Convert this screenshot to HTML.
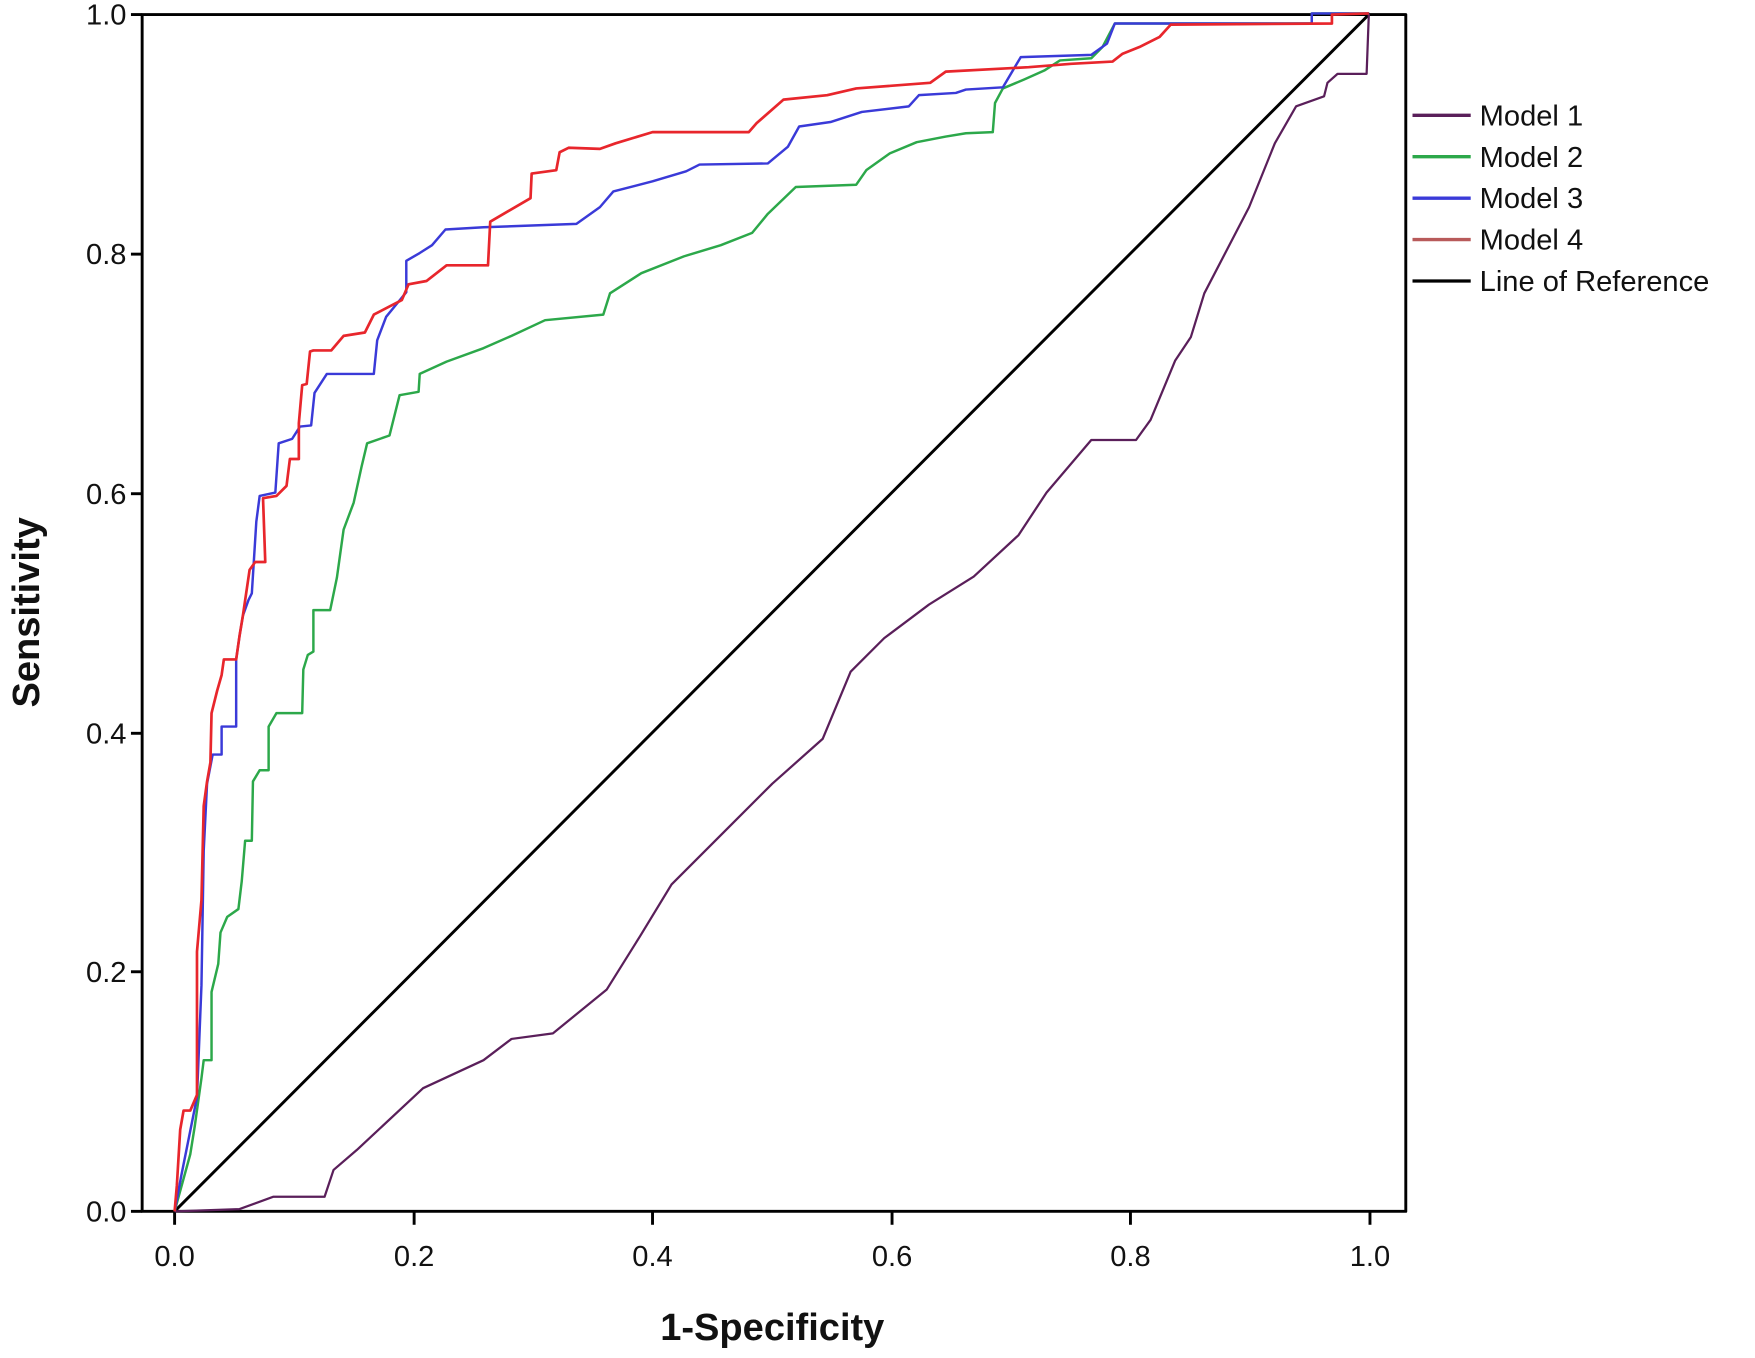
<!DOCTYPE html>
<html><head><meta charset="utf-8"><style>html,body{margin:0;padding:0;background:#fff}svg{display:block}</style></head>
<body>
<svg width="1755" height="1358" viewBox="0 0 1568 1213" preserveAspectRatio="none" xmlns="http://www.w3.org/2000/svg" font-family="Liberation Sans, Arial, sans-serif">
<rect width="1568" height="1213" fill="#fff"/>
<g fill="none" stroke-linejoin="round">
<rect x="127" y="13" width="1129" height="1069" stroke="#000" stroke-width="2.6"/>
<g stroke="#000" stroke-width="2.6">
<line x1="117" y1="1082" x2="127" y2="1082"/><line x1="117" y1="868" x2="127" y2="868"/><line x1="117" y1="655" x2="127" y2="655"/><line x1="117" y1="441" x2="127" y2="441"/><line x1="117" y1="227" x2="127" y2="227"/><line x1="117" y1="13" x2="127" y2="13"/>
<line x1="156" y1="1082" x2="156" y2="1094"/><line x1="370" y1="1082" x2="370" y2="1094"/><line x1="583" y1="1082" x2="583" y2="1094"/><line x1="797" y1="1082" x2="797" y2="1094"/><line x1="1010" y1="1082" x2="1010" y2="1094"/><line x1="1224" y1="1082" x2="1224" y2="1094"/>
</g>
<line x1="156" y1="1082" x2="1224" y2="12" stroke="#000" stroke-width="2.6"/>
<polyline stroke="#5a1f5a" stroke-width="2" points="156,1082 214,1080 244,1069 290,1069 298,1045 319,1027 378,972 432,947 457,928 494,923 542,884 572,836 600,790 650,740 690,700 735,660 760,600 790,570 830,540 870,515 910,478 935,440 975,393 1015,393 1028,375 1050,322 1064,301 1076,262 1116,185 1139,128 1158,95 1183,86 1186,74 1195,66 1221,66 1223,12"/>
<polyline stroke="#2ca84a" stroke-width="2.2" points="156,1082 170,1031 174,1006 180,963 182,947 189,947 189,886 195,861 197,833 203,819 213,812 216,787 219,751 225,751 226,698 232,688 240,688 240,649 247,637 270,637 271,598 275,585 280,582 280,545 295,545 301,516 307,473 316,449 323,417 328,396 348,389 357,353 374,350 375,334 399,323 432,311 457,300 487,286 539,281 545,262 573,244 611,229 644,219 672,208 686,191 711,167 765,165 774,152 795,137 819,127 845,122 863,119 887,118 889,92 896,79 915,71 933,63 947,54 975,52 985,42 996,21 1172,21 1172,12 1223,12"/>
<polyline stroke="#3a3ad8" stroke-width="2.2" points="156,1082 162,1050 170,1010 176,980 180,880 182,760 185,700 190,674 198,674 198,649 211,649 211,589 214,568 217,550 222,536 225,530 229,466 232,443 246,440 249,396 261,392 268,381 278,380 281,351 292,334 334,334 337,304 345,283 354,272 363,261 363,233 375,226 386,219 398,205 432,203 515,200 536,185 548,171 583,162 613,153 625,147 686,146 704,131 714,113 742,109 770,100 812,95 821,85 854,83 863,80 896,78 912,51 975,49 989,39 996,21 1172,21 1172,12 1223,12"/>
<polyline stroke="#e8262c" stroke-width="2.4" points="156,1082 158,1059 161,1009 164,992 170,992 176,978 176,850 180,804 182,720 185,698 188,681 189,637 194,617 198,603 200,589 211,589 214,568 217,550 223,509 228,502 237,502 235,445 247,443 256,434 259,410 267,410 267,378 270,344 274,343 277,314 280,313 296,313 307,300 326,297 334,281 359,268 365,254 381,251 399,237 436,237 438,198 450,191 474,177 475,155 497,152 500,136 508,132 536,133 550,128 583,118 669,118 676,110 700,89 739,85 765,79 831,74 845,64 919,60 957,57 994,55 1003,48 1018,42 1036,33 1046,22 1190,21 1190,13 1223,12"/>
<line x1="1262" y1="103" x2="1314" y2="103" stroke="#5a1f5a" stroke-width="3"/>
<line x1="1262" y1="140" x2="1314" y2="140" stroke="#2ca84a" stroke-width="3"/>
<line x1="1262" y1="177" x2="1314" y2="177" stroke="#3a3ad8" stroke-width="3"/>
<line x1="1262" y1="214" x2="1314" y2="214" stroke="#b85a5a" stroke-width="3"/>
<line x1="1262" y1="251" x2="1314" y2="251" stroke="#000" stroke-width="3"/>
</g>
<g font-size="26" fill="#111">
<text x="1322" y="112">Model 1</text>
<text x="1322" y="149">Model 2</text>
<text x="1322" y="186">Model 3</text>
<text x="1322" y="223">Model 4</text>
<text x="1322" y="260">Line of Reference</text>
<g text-anchor="end">
<text x="113" y="1091">0.0</text><text x="113" y="877">0.2</text><text x="113" y="664">0.4</text><text x="113" y="450">0.6</text><text x="113" y="236">0.8</text><text x="113" y="22">1.0</text>
</g>
<g text-anchor="middle">
<text x="156" y="1131">0.0</text><text x="370" y="1131">0.2</text><text x="583" y="1131">0.4</text><text x="797" y="1131">0.6</text><text x="1010" y="1131">0.8</text><text x="1224" y="1131">1.0</text>
</g>
</g>
<text x="690" y="1197" text-anchor="middle" font-size="34" font-weight="bold" fill="#111">1-Specificity</text>
<text transform="translate(35,547) rotate(-90)" text-anchor="middle" font-size="34" font-weight="bold" fill="#111">Sensitivity</text>
</svg>
</body></html>
